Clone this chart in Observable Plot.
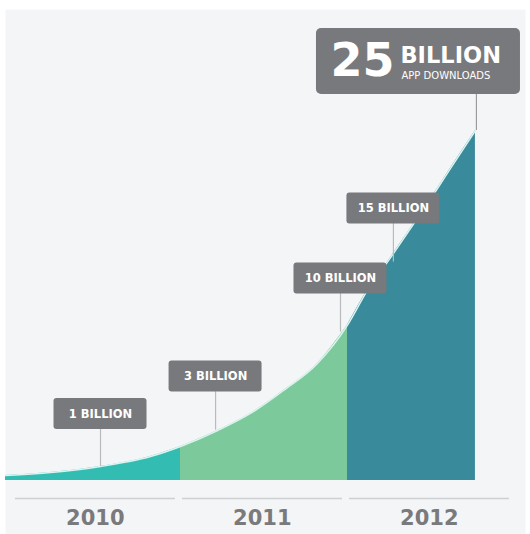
<!DOCTYPE html>
<html><head><meta charset="utf-8">
<script src="https://cdn.jsdelivr.net/npm/d3@7"></script>
<script src="https://cdn.jsdelivr.net/npm/@observablehq/plot@0.6"></script>
<style>body{margin:0;background:#fff;} #chart svg{display:block;}</style>
</head><body><div id="chart"></div>
<script>
// Cumulative App Store downloads (billions)
const years = [2010, 2011, 2012];
const curveT = [2009.952, 2010.222, 2010.521, 2010.82, 2011.0, 2011.222, 2011.419, 2011.617, 2011.82, 2012.0, 2012.12, 2012.257, 2012.377, 2012.497, 2012.617, 2012.766];
const curveV = [0.36, 0.57, 1.0, 1.71, 2.43, 3.57, 4.79, 6.43, 8.36, 11.1, 13.6, 15.9, 18.0, 20.1, 22.3, 25.0];

// Callouts
const calloutText = ["1 BILLION", "3 BILLION", "10 BILLION", "15 BILLION"];
const calloutT = [2010.521, 2011.210, 2011.958, 2012.275];
const calloutCurveV = [1.0, 3.6, 10.6, 15.6];
const calloutBoxV = [4.75, 7.43, 14.43, 19.43];

const headlineNumber = "25";
const headlineUnit = "BILLION";
const headlineSub = "APP DOWNLOADS";
const headlineT = 2012.772;
const headlineV = 25.0;
const headlineBoxT = 2012.425;
const headlineBoxV = 29.93;

const points = curveT.map((t, i) => ({t, v: curveV[i]}));
const seg = (a, b) => points.filter(d => d.t >= a && d.t <= b);
const callouts = calloutText.map((text, i) => ({text, t: calloutT[i], cv: calloutCurveV[i], bv: calloutBoxV[i]}));
const headline = [{t: headlineT, v: headlineV, bt: headlineBoxT, bv: headlineBoxV}];

const font = "DejaVu Sans";
const chart = Plot.plot({
  width: 530, height: 534,
  marginLeft: 5, marginRight: 5, marginTop: 9, marginBottom: 0,
  x: {type: "linear", domain: [2010, 2013], range: [13, 514], axis: null},
  y: {type: "linear", domain: [0, 25], range: [480, 130], axis: null},
  style: {background: "#ffffff", fontFamily: font},
  marks: [
    Plot.frame({fill: "#f4f5f7", stroke: "none"}),
    Plot.areaY(seg(2009, 2011), {x: "t", y: "v", fill: "#33bdb2", curve: "monotone-x"}),
    Plot.areaY(seg(2011, 2012), {x: "t", y: "v", fill: "#7cc99b", curve: "monotone-x"}),
    Plot.areaY(seg(2012, 2013), {x: "t", y: "v", fill: "#398a9b", curve: "monotone-x"}),
    Plot.line(points, {x: "t", y: "v", stroke: "#dcf4f0", strokeWidth: 1.5, curve: "monotone-x"}),
    // year axis
    Plot.ruleY(years, {y: 0, x1: d => d + 0.012, x2: d => d + 0.97, dy: 18, stroke: "#cfd0d3", strokeWidth: 1.5}),
    Plot.text(years, {x: d => d + 0.49, y: 0, dy: 38, text: d => String(d), fontSize: 21, fontWeight: "bold", fill: "#7a7a7c"}),
    // leader lines
    Plot.ruleX(callouts, {x: "t", y1: "cv", y2: "bv", stroke: "#b9babc", strokeWidth: 1.2}),
    Plot.ruleX(headline, {x: "t", y1: "v", y2: "bv", stroke: "#9a9b9d", strokeWidth: 1.2}),
    // callout boxes
    Plot.rect(callouts, {x1: "t", x2: "t", y1: "bv", y2: "bv", insetLeft: -46.5, insetRight: -46.5, insetTop: -15.5, insetBottom: -15.5, fill: "#78797c", rx: 3}),
    Plot.text(callouts, {x: "t", y: "bv", text: "text", fill: "#ffffff", fontSize: 11.5, fontWeight: "bold"}),
    // headline box
    Plot.rect(headline, {x1: "bt", x2: "bt", y1: "bv", y2: "bv", insetLeft: -102, insetRight: -102, insetTop: -33, insetBottom: -33, fill: "#78797c", rx: 5}),
    Plot.text(headline, {x: "bt", y: "bv", text: () => headlineNumber, dx: -88, dy: 0, textAnchor: "start", fill: "#ffffff", fontSize: 46, fontWeight: "bold"}),
    Plot.text(headline, {x: "bt", y: "bv", text: () => headlineUnit, dx: -18, dy: -6, textAnchor: "start", fill: "#ffffff", fontSize: 22.5, fontWeight: "bold"}),
    Plot.text(headline, {x: "bt", y: "bv", text: () => headlineSub, dx: -17, dy: 14, textAnchor: "start", fill: "#ffffff", fontSize: 10})
  ]
});
document.getElementById("chart").appendChild(chart);
</script>
</body></html>
